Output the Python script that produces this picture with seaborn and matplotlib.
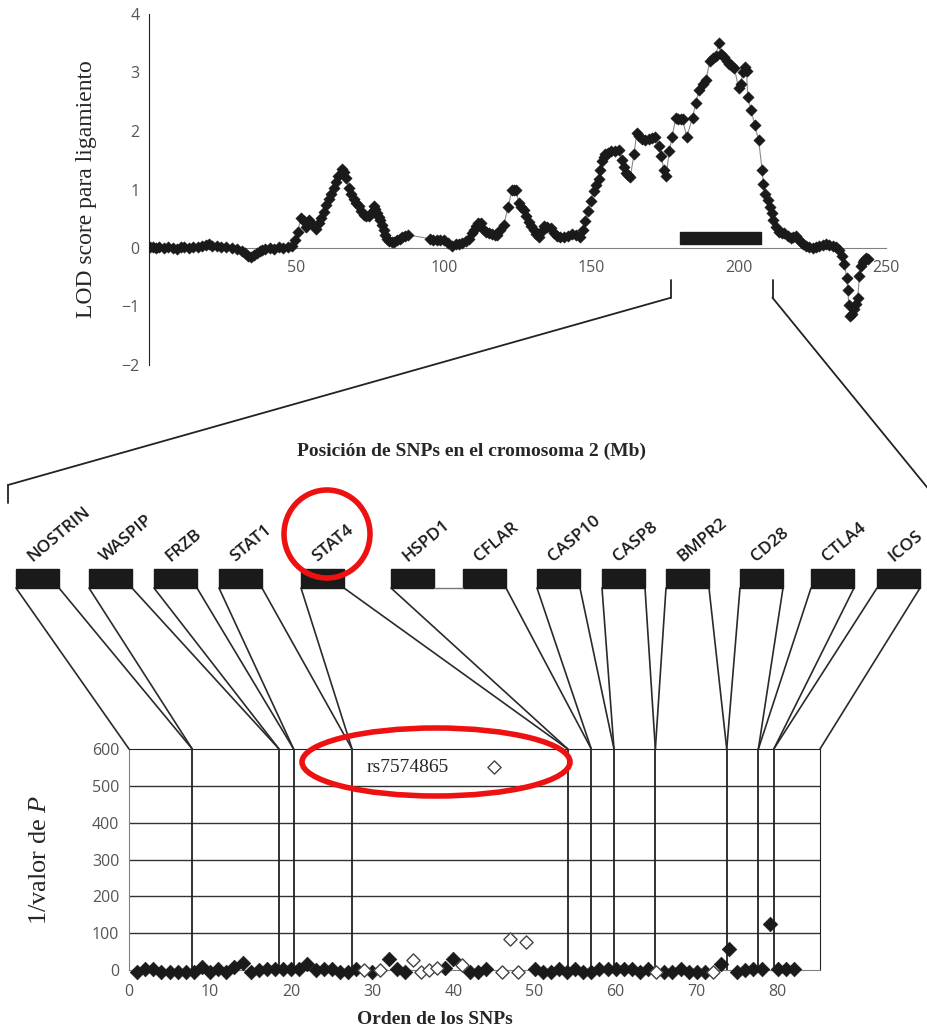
import matplotlib
matplotlib.use("Agg")
import matplotlib.pyplot as plt
from matplotlib.patches import Rectangle, Ellipse, ConnectionPatch
import pandas as pd
import seaborn as sns

# LOD score along chromosome 2 (Mb, LOD)
top_pos = [0.5, 1.5, 2.5, 3.5, 5.0, 6.5, 8.0, 9.5, 11.0, 12.0, 13.5, 15.0, 16.5, 18.0, 19.5,
           20.5, 21.5, 23.0, 24.5, 26.0, 28.0, 30.0, 31.5, 32.5, 33.5, 34.5, 35.5, 36.5, 37.5,
           38.5, 39.5, 41.0, 42.5, 44.0, 45.5, 47.0, 48.5, 49.5, 50.5, 51.5, 52.5, 53.3, 54.3,
           55.5, 56.6, 57.7, 58.5, 59.3, 60.2, 61.0, 61.8, 62.7, 63.5, 64.2, 65.3, 66.0, 66.8,
           67.8, 68.6, 69.5, 70.3, 71.2, 72.0, 72.8, 73.7, 74.5, 75.4, 76.2, 76.8, 77.4, 78.0,
           78.5, 79.0, 79.6, 80.1, 80.7, 81.5, 82.4, 83.2, 84.1, 85.0, 85.8, 87.0, 88.0, 95.4,
           96.5, 97.6, 98.8, 100.0, 101.5, 102.9, 104.0, 105.0, 106.3, 107.5, 108.5, 109.4,
           110.2, 111.0, 111.7, 112.5, 113.3, 114.2, 115.2, 116.3, 117.2, 118.1, 119.2, 120.4,
           121.8, 123.2, 123.9, 124.5, 125.4, 126.2, 127.1, 128.0, 128.8, 129.6, 130.5, 131.3,
           132.2, 133.0, 133.9, 135.0, 136.2, 137.3, 138.4, 139.5, 140.7, 142.0, 143.5, 145.0,
           146.3, 147.1, 148.0, 148.9, 149.8, 150.8, 151.6, 152.5, 153.1, 153.7, 154.3, 154.8,
           155.8, 156.8, 158.0, 159.3, 160.5, 161.2, 161.8, 162.5, 163.3, 164.5, 165.5, 166.3,
           167.2, 168.3, 169.5, 170.6, 171.7, 172.9, 173.8, 174.6, 175.4, 176.5, 177.4, 178.7,
           179.6, 180.4, 181.0, 182.4, 184.4, 185.5, 186.5, 187.8, 189.0, 190.2, 191.2, 192.2,
           193.3, 194.1, 195.2, 196.0, 196.9, 197.8, 198.6, 200.0, 200.8, 201.4, 202.3, 202.7,
           203.1, 204.2, 205.5, 206.8, 208.0, 208.4, 209.1, 209.9, 210.6, 211.3, 211.8, 212.8,
           213.8, 214.6, 215.5, 216.6, 217.8, 218.6, 219.5, 220.3, 221.2, 222.0, 222.9, 224.0,
           225.1, 226.3, 227.4, 228.5, 229.6, 230.8, 231.9, 233.0, 234.2, 235.1, 235.9, 236.7,
           237.0, 237.4, 237.8, 238.4, 239.0, 239.7, 240.4, 241.0, 241.6, 242.2, 242.7, 243.3,
           243.8]
top_lod = [0.01, 0.02, 0.0, 0.01, 0.0, 0.02, 0.0, -0.01, 0.02, 0.01, 0.0, 0.02, 0.01, 0.03, 0.05,
           0.07, 0.04, 0.03, 0.01, 0.02, 0.0, -0.01, -0.05, -0.09, -0.13, -0.15, -0.12, -0.08, -0.05,
           -0.03, -0.02, 0.0, -0.01, 0.01, 0.0, 0.02, 0.03, 0.13, 0.28, 0.51, 0.47, 0.36, 0.48,
           0.40, 0.32, 0.42, 0.52, 0.62, 0.73, 0.83, 0.93, 1.03, 1.13, 1.23, 1.35, 1.30, 1.20,
           1.03, 0.93, 0.83, 0.77, 0.71, 0.64, 0.57, 0.55, 0.54, 0.60, 0.71, 0.66, 0.60, 0.53,
           0.48, 0.40, 0.31, 0.22, 0.16, 0.12, 0.10, 0.11, 0.13, 0.16, 0.19, 0.21, 0.22, 0.16,
           0.14, 0.13, 0.14, 0.14, 0.08, 0.04, 0.06, 0.07, 0.09, 0.12, 0.16, 0.25,
           0.31, 0.37, 0.42, 0.43, 0.33, 0.27, 0.25, 0.24, 0.23, 0.23, 0.30, 0.40,
           0.70, 1.00, 1.00, 1.00, 0.77, 0.70, 0.65, 0.55, 0.45, 0.38, 0.31, 0.24,
           0.19, 0.28, 0.37, 0.36, 0.34, 0.26, 0.20, 0.19, 0.19, 0.21, 0.24, 0.22,
           0.19, 0.31, 0.47, 0.63, 0.80, 0.97, 1.08, 1.18, 1.33, 1.48, 1.56, 1.61,
           1.63, 1.65, 1.66, 1.67, 1.50, 1.38, 1.28, 1.24, 1.22, 1.60, 1.97, 1.92,
           1.87, 1.85, 1.86, 1.88, 1.89, 1.74, 1.57, 1.34, 1.23, 1.65, 1.89, 2.23,
           2.21, 2.20, 2.20, 1.90, 2.23, 2.48, 2.70, 2.81, 2.87, 3.20, 3.24, 3.28,
           3.50, 3.32, 3.27, 3.20, 3.15, 3.11, 3.07, 2.73, 2.80, 3.01, 3.09, 3.02,
           2.58, 2.36, 2.10, 1.84, 1.33, 1.10, 0.93, 0.82, 0.70, 0.59, 0.48, 0.36,
           0.28, 0.26, 0.25, 0.21, 0.17, 0.19, 0.20, 0.15, 0.11, 0.07, 0.04, 0.01,
           0.00, 0.01, 0.03, 0.05, 0.07, 0.05, 0.03, 0.02, -0.03, -0.14, -0.28, -0.51,
           -0.71, -0.97, -1.17, -1.12, -1.05, -0.95, -0.85, -0.48, -0.31, -0.24, -0.20, -0.17,
           -0.19]

# linkage peak bar and the zoomed window (Mb)
peak_start, peak_end = 180, 207.5
zoom_start, zoom_end = 177, 211.5

# genes in the region and SNP-order boundaries of their blocks
genes = ['NOSTRIN', 'WASPIP', 'FRZB', 'STAT1', 'STAT4', 'HSPD1', 'CFLAR',
         'CASP10', 'CASP8', 'BMPR2', 'CD28', 'CTLA4', 'ICOS']
snp_bounds = [0, 7.8, 18.5, 20.3, 27.5, 54.1, 57.0, 59.8, 64.9, 73.7, 77.6, 79.5, 85.2]
left_link = [0, 1, 2, 3, 4, 5, None, 6, 7, 8, 9, 10, 11]
right_link = [1, 2, 3, 4, 5, None, 6, 7, 8, 9, 10, 11, 12]

# association results, 1/P per SNP
snp_order = list(range(1, 83))
snp_inv_p = [-6, 4, 4, -6, -6, -6, -6, -6, 9, -6,
             2, -6, 9, 18, -6, 0, 2, 2, 2, 2,
             2, 16, 0, 2, 2, -6, -6, 2, 0, -6,
             0, 29, 2, -6, 27, -6, 0, 6, 6, 29,
             14, -6, -6, 2, 550, -6, 84, -6, 77, 2,
             -6, -6, 2, -6, 2, -6, -6, 2, 2, 2,
             2, 2, -6, 2, -6, -6, -6, 2, -6, -6,
             -6, -6, 16, 56, -6, 0, 4, 4, 125, 2,
             2, 2]
snp_open = [29, 31, 35, 36, 37, 38, 41, 45, 46, 47, 48, 49, 65, 72]
top_snp = 'rs7574865'

# layout of the schematic (figure pixels, y down)
W, H = 928, 1034
box_left = [16, 89, 154, 219, 301, 391, 463, 537, 602, 666, 740, 811, 877]
box_w, box_top, box_h = 43, 569, 19

sns.set_style('white')
plt.rcParams['font.family'] = ['Open Sans', 'DejaVu Sans']
plt.rcParams['mathtext.fontset'] = 'custom'
plt.rcParams['mathtext.rm'] = 'Liberation Serif'
plt.rcParams['mathtext.it'] = 'Liberation Serif:italic'
serif = ['Liberation Serif', 'DejaVu Serif']
tick_grey = '#555555'

fig = plt.figure(figsize=(W / 100, H / 100), dpi=100)

# ---------------- top: LOD curve ----------------
ax = fig.add_axes([149 / W, 1 - 365 / H, (886 - 149) / W, 351 / H])
ax.patch.set_alpha(0)
lod = pd.DataFrame({'pos': top_pos, 'lod': top_lod})
sns.lineplot(data=lod, x='pos', y='lod', ax=ax, color='#8a8a8a', lw=0.8, sort=False)
sns.scatterplot(data=lod, x='pos', y='lod', ax=ax, marker='D', s=34, color='#1a1a1a',
                edgecolor='#1a1a1a', linewidth=0.3, zorder=3)
ax.add_patch(Rectangle((peak_start, 0.07), peak_end - peak_start, 0.2, color='#1a1a1a', zorder=2))
ax.set_xlim(0, 250)
ax.set_ylim(-2, 4)
ax.set_xticks([50, 100, 150, 200, 250])
ax.set_yticks([-2, -1, 0, 1, 2, 3, 4])
for s in ['top', 'right']:
    ax.spines[s].set_visible(False)
ax.spines['bottom'].set_position(('data', 0))
ax.spines['bottom'].set_color('#808080')
ax.spines['left'].set_color('#222222')
ax.tick_params(axis='x', direction='out', length=6, width=1, color='#606060',
               labelsize=11.5, labelcolor=tick_grey, pad=3)
ax.tick_params(axis='y', direction='out', length=5, width=1, color='#333333',
               labelsize=11.5, labelcolor=tick_grey, pad=2)
ax.set_ylabel('LOD score para ligamiento', family=serif, fontsize=17)
ax.yaxis.set_label_coords(-0.07, 0.5)
ax.set_xlabel('Posición de SNPs en el cromosoma 2 (Mb)', family=serif, fontsize=14,
              fontweight='bold')
ax.xaxis.set_label_coords(0.437, -0.222)

# ---------------- bottom: 1/P per SNP ----------------
ax2 = fig.add_axes([129 / W, 1 - 970 / H, (820 - 129) / W, 221 / H])
ax2.patch.set_alpha(0)
snp = pd.DataFrame({'order': snp_order, 'inv_p': snp_inv_p})
snp['open'] = snp['order'].isin(snp_open)
ax2.set_xlim(snp_bounds[0], snp_bounds[-1])
ax2.set_ylim(0, 600)
for yv in [100, 200, 300, 400, 500]:
    ax2.axhline(yv, color='#333333', lw=1, zorder=1)
ax2.vlines(snp_bounds[1:-1], 0, 600, color='#222222', lw=1.3, zorder=1)
sns.scatterplot(data=snp[~snp['open']], x='order', y='inv_p', ax=ax2, marker='D', s=55,
                color='#1a1a1a', edgecolor='#1a1a1a', linewidth=0.5, zorder=3, clip_on=False)
sns.scatterplot(data=snp[snp['open']], x='order', y='inv_p', ax=ax2, marker='D', s=45,
                facecolor='white', edgecolor='#444444', linewidth=1, zorder=3, clip_on=False)
ax2.text(29.3, 550, top_snp, family=serif, fontsize=14, va='center', ha='left')
ax2.set_xticks(range(0, 81, 10))
ax2.set_yticks(range(0, 601, 100))
ax2.spines['left'].set_color('#808080')
ax2.spines['bottom'].set_color('#808080')
ax2.spines['top'].set_color('#222222')
ax2.spines['right'].set_color('#222222')
ax2.tick_params(axis='x', direction='out', length=7, width=1.2, color='#808080',
                labelsize=11.5, labelcolor=tick_grey, pad=3)
ax2.tick_params(axis='y', direction='out', length=5, width=1, color='#333333',
                labelsize=11.5, labelcolor=tick_grey, pad=2)
ax2.set_ylabel(r'1/valor de $P$', family=serif, fontsize=19)
ax2.yaxis.set_label_coords(-0.113, 0.5)
ax2.set_xlabel('Orden de los SNPs', family=serif, fontsize=14, fontweight='bold')
ax2.xaxis.set_label_coords(0.443, -0.185)

# ---------------- schematic overlay ----------------
ov = fig.add_axes([0, 0, 1, 1], zorder=5)
ov.set_xlim(0, W)
ov.set_ylim(H, 0)
ov.axis('off')
ov.patch.set_alpha(0)

link = dict(color='#2a2a2a', lw=1.2)
for i, (g, x0) in enumerate(zip(genes, box_left)):
    ov.add_patch(Rectangle((x0, box_top), box_w, box_h, color='#1a1a1a'))
    ov.text(x0 + 16, box_top - 7, g, rotation=40, rotation_mode='anchor', ha='left',
            va='baseline', fontsize=12.5, fontweight='semibold', color='#1a1a1a')
    if left_link[i] is not None:
        fig.add_artist(ConnectionPatch((x0, box_top + box_h), (snp_bounds[left_link[i]], 600),
                                       coordsA=ov.transData, coordsB=ax2.transData, **link))
    if right_link[i] is not None:
        fig.add_artist(ConnectionPatch((x0 + box_w, box_top + box_h), (snp_bounds[right_link[i]], 600),
                                       coordsA=ov.transData, coordsB=ax2.transData, **link))
# HSPD1 and CFLAR share one block
ov.plot([box_left[5] + box_w, box_left[6]], [box_top + box_h - 0.5] * 2, color='#777777', lw=1)

# zoom bracket from chromosome axis to gene row
for xm, end in [(zoom_start, (8, 485)), (zoom_end, (935, 497))]:
    ax.plot([xm, xm], [-0.55, -0.85], color='#222222', lw=1.3, clip_on=False)
    fig.add_artist(ConnectionPatch((xm, -0.85), end, coordsA=ax.transData,
                                   coordsB=ov.transData, color='#222222', lw=1.3))
ov.plot([8, 8], [485, 503], color='#222222', lw=1.3)

# red highlights
ov.add_patch(Ellipse((327, 534), 86, 88, fill=False, ec='#ee1111', lw=4))
ov.add_patch(Ellipse((436, 762), 268, 68, fill=False, ec='#ee1111', lw=4))

fig.savefig('out.png', dpi=100)
